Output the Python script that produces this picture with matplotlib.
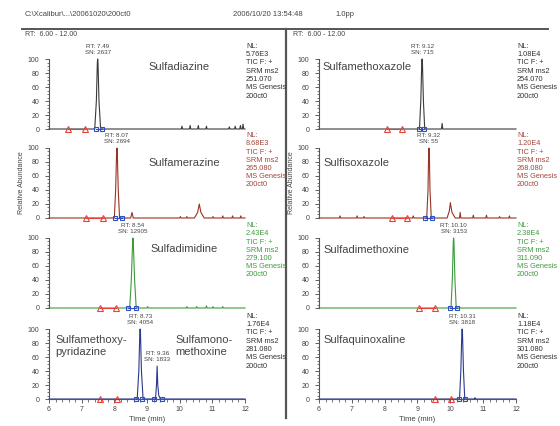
import matplotlib
matplotlib.use("Agg")
import matplotlib.pyplot as plt
from matplotlib.ticker import MultipleLocator

plt.rcParams['font.family'] = ['Liberation Sans', 'DejaVu Sans']

# ---- header text ----
file_path = "C:\\Xcalibur\\...\\20061020\\200ct0"
stamp = "2006/10/20 13:54:48"
scale_txt = "1.0pp"
rt_range = "RT:  6.00 - 12.00"

# ---- traces (time in min, relative abundance in %) ----
sdz_t = [6.00, 7.40, 7.45, 7.48, 7.49, 7.50, 7.53, 7.58, 10.05, 10.07, 10.09, 10.30, 10.32, 10.34,
         10.55, 10.57, 10.59, 10.80, 10.82, 10.84, 11.50, 11.52, 11.54, 11.68, 11.70, 11.72,
         11.84, 11.86, 11.88, 11.92, 11.94, 11.96, 12.00]
sdz_a = [0, 0, 40, 95, 100, 95, 40, 0, 0, 4, 0, 0, 5, 0,
         0, 5, 0, 0, 4, 0, 0, 3, 0, 0, 4, 0,
         0, 5, 0, 0, 7, 0, 0]

smr_t = [6.00, 8.00, 8.04, 8.07, 8.08, 8.09, 8.12, 8.16, 8.50, 8.54, 8.58, 10.00, 10.02, 10.04,
         10.20, 10.22, 10.24, 10.45, 10.55, 10.60, 10.65, 10.75, 11.00, 11.02, 11.04, 11.30,
         11.32, 11.34, 11.60, 11.62, 11.64, 11.85, 11.87, 11.89, 12.00]
smr_a = [0, 0, 40, 95, 100, 95, 40, 0, 0, 8, 0, 0, 2, 0,
         0, 2, 0, 0, 8, 20, 8, 0, 0, 2, 0, 0,
         3, 0, 0, 3, 0, 0, 3, 0, 0]

sdd_t = [6.00, 8.47, 8.52, 8.56, 8.57, 8.58, 8.62, 8.67, 9.00, 9.02, 9.04, 10.20, 10.22, 10.24,
         10.50, 10.52, 10.54, 10.80, 10.82, 10.84, 11.00, 11.02, 11.04, 11.30, 11.32, 11.34, 12.00]
sdd_a = [0, 0, 40, 95, 100, 95, 40, 0, 0, 2, 0, 0, 2, 0,
         0, 2, 0, 0, 3, 0, 0, 2, 0, 0, 2, 0, 0]

smp_t = [6.00, 8.70, 8.75, 8.78, 8.79, 8.80, 8.83, 8.88, 9.26, 9.29, 9.31, 9.33, 9.36, 9.41, 12.00]
smp_a = [0, 0, 40, 95, 100, 95, 40, 0, 0, 20, 47, 20, 5, 0, 0]

smx_t = [6.00, 9.06, 9.10, 9.13, 9.14, 9.15, 9.18, 9.22, 9.73, 9.75, 9.77, 12.00]
smx_a = [0, 0, 40, 95, 100, 95, 40, 0, 0, 8, 0, 0]

sis_t = [6.00, 6.62, 6.64, 6.66, 7.14, 7.16, 7.18, 7.35, 7.37, 7.39, 8.85, 8.87, 8.89,
         9.28, 9.32, 9.34, 9.35, 9.36, 9.38, 9.42, 9.90, 9.97, 10.00, 10.05, 10.15,
         10.28, 10.30, 10.32, 10.68, 10.70, 10.72, 11.08, 11.10, 11.12, 11.48, 11.50, 11.52,
         11.78, 11.80, 11.82, 12.00]
sis_a = [0, 0, 3, 0, 0, 3, 0, 0, 2, 0, 0, 3, 0,
         0, 40, 95, 100, 95, 40, 0, 0, 10, 22, 8, 0,
         0, 8, 0, 0, 4, 0, 0, 4, 0, 0, 2, 0,
         0, 3, 0, 0]

sdm_t = [6.00, 10.02, 10.06, 10.09, 10.10, 10.11, 10.14, 10.18, 12.00]
sdm_a = [0, 0, 40, 95, 100, 95, 40, 0, 0]

sqx_t = [6.00, 10.28, 10.32, 10.35, 10.36, 10.37, 10.40, 10.44, 10.73, 10.75, 10.77, 12.00]
sqx_a = [0, 0, 40, 95, 100, 95, 40, 0, 0, 2, 0, 0]

# ---- integration markers (noise window triangles, peak boundary squares) ----
sdz_tri, sdz_sq = [6.58, 7.10], [7.44, 7.62]
smr_tri, smr_sq = [7.13, 7.65], [8.02, 8.23]
sdd_tri, sdd_sq = [7.56, 8.05], [8.43, 8.66]
smp_tri, smp_sq = [7.56, 8.08], [8.65, 8.85, 9.22, 9.45]
smx_tri, smx_sq = [8.07, 8.53], [9.05, 9.20]
sis_tri, sis_sq = [8.22, 8.68], [9.22, 9.45]
sdm_tri, sdm_sq = [9.05, 9.54], [10.00, 10.20]
sqx_tri, sqx_sq = [9.54, 10.02], [10.25, 10.45]

# ---- labels ----
names = ["Sulfadiazine", "Sulfamerazine", "Sulfadimidine", "Sulfamethoxy-\npyridazine",
         "Sulfamethoxazole", "Sulfisoxazole", "Sulfadimethoxine", "Sulfaquinoxaline"]
peak_labels = [[(7.49, 100, "RT: 7.49\nSN: 2637")],
               [(8.08, 100, "RT: 8.07\nSN: 2694")],
               [(8.57, 100, "RT: 8.54\nSN: 12905")],
               [(8.79, 100, "RT: 8.73\nSN: 4054"), (9.31, 47, "RT: 9.36\nSN: 1833")],
               [(9.14, 100, "RT: 9.12\nSN: 715")],
               [(9.35, 100, "RT: 9.32\nSN: 55")],
               [(10.10, 100, "RT: 10.10\nSN: 3153")],
               [(10.36, 100, "RT: 10.31\nSN: 3818")]]
nl_values = ["5.76E3", "8.68E3", "2.43E4", "1.76E4", "1.08E4", "1.20E4", "2.38E4", "1.18E4"]
masses = ["251.070", "265.080", "279.100", "281.080", "254.070", "268.080", "311.090", "301.080"]

traces = [(sdz_t, sdz_a), (smr_t, smr_a), (sdd_t, sdd_a), (smp_t, smp_a),
          (smx_t, smx_a), (sis_t, sis_a), (sdm_t, sdm_a), (sqx_t, sqx_a)]
markers = [(sdz_tri, sdz_sq), (smr_tri, smr_sq), (sdd_tri, sdd_sq), (smp_tri, smp_sq),
           (smx_tri, smx_sq), (sis_tri, sis_sq), (sdm_tri, sdm_sq), (sqx_tri, sqx_sq)]

line_cols = ['#3a3a3a', '#9a3324', '#3c9b3c', '#2a3a8f']
text_cols = ['#333333', '#a3473a', '#3f9a3f', '#333333']

W, H = 560, 426
fig = plt.figure(figsize=(W / 100, H / 100), dpi=100)


def ftxt(x, y, s, **kw):
    return fig.text(x / W, 1 - y / H, s, **kw)


# header
ftxt(25, 15, file_path, fontsize=5.5, color='#444', va='center')
ftxt(233, 15, stamp, fontsize=5.5, color='#444', va='center')
ftxt(335, 15, scale_txt, fontsize=5.5, color='#444', va='center')
fig.add_artist(plt.Line2D([22 / W, 548 / W], [1 - 29 / H, 1 - 29 / H], color='#555', lw=1.4))
fig.add_artist(plt.Line2D([286 / W, 286 / W], [1 - 29 / H, 1 - 418 / H], color='#555', lw=1.6))
ftxt(25, 35, rt_range, fontsize=5, color='#444', va='center')
ftxt(293, 35, rt_range, fontsize=5, color='#444', va='center')

tops = [59, 148, 238, 329]
ph = 70
cols = [(49, 196), (319, 197)]
name_pos = [(148, 67), (148, 163), (150, 249), (55, 346),
            (322, 67), (323, 163), (323, 250), (323, 340)]

for i in range(8):
    c, r = divmod(i, 4)
    x0, w = cols[c]
    top = tops[r]
    ax = fig.add_axes([x0 / W, 1 - (top + ph) / H, w / W, ph / H])
    t, a = traces[i]
    ax.plot(t, a, color=line_cols[r], lw=0.8, clip_on=False)
    tri, sq = markers[i]
    ax.plot(tri, [0] * len(tri), color='#e8413a', lw=0.8, marker='^', ms=4,
            mfc='none', mew=0.8, clip_on=False)
    for k in range(0, len(sq), 2):
        ax.plot(sq[k:k + 2], [0, 0], color='#3050c0', lw=0.8, marker='s', ms=3.5,
                mfc='none', mew=0.8, clip_on=False)
    ax.set_xlim(6, 12)
    ax.set_ylim(0, 100)
    for s in ['top', 'right']:
        ax.spines[s].set_visible(False)
    ax.spines['left'].set_color('#555')
    ax.spines['left'].set_linewidth(0.8)
    ax.yaxis.set_major_locator(MultipleLocator(20))
    ax.yaxis.set_minor_locator(MultipleLocator(5))
    ax.tick_params(axis='y', which='major', labelsize=5, length=3, width=0.6,
                   colors='#444', pad=4)
    ax.tick_params(axis='y', which='minor', length=1.8, width=0.5, colors='#444')
    if r == 3:
        ax.spines['bottom'].set_color('#555')
        ax.spines['bottom'].set_linewidth(0.8)
        ax.xaxis.set_major_locator(MultipleLocator(1))
        ax.xaxis.set_minor_locator(MultipleLocator(0.2))
        ax.tick_params(axis='x', which='major', labelsize=5, length=3, width=0.6,
                       colors='#444', pad=2)
        ax.tick_params(axis='x', which='minor', length=1.8, width=0.5, colors='#444')
        ax.set_xlabel("Time (min)", fontsize=5.5, color='#444', labelpad=2)
    else:
        ax.spines['bottom'].set_visible(False)
        ax.set_xticks([])
    if r == 1:
        ax.set_ylabel("Relative Abundance", fontsize=5, color='#444', labelpad=2)
    ax.patch.set_alpha(0)

    for (px, py, lab) in peak_labels[i]:
        ax.annotate(lab, (px, py), xytext=(0, 3), textcoords='offset points',
                    ha='center', va='bottom', fontsize=4.5, color='#444',
                    linespacing=1.3, annotation_clip=False)

    nx, ny = name_pos[i]
    ftxt(nx, ny, names[i], fontsize=8, color='#444', va='center', linespacing=1.2)
    if i == 3:
        ftxt(175, 346, "Sulfamono-\nmethoxine", fontsize=8, color='#444', va='center',
             linespacing=1.2)

    nl = "NL:\n%s\nTIC F: +\nSRM ms2\n%s\nMS Genesis\n200ct0" % (nl_values[i], masses[i])
    ftxt(x0 + w + 1, top - 16, nl, fontsize=5.3, color=text_cols[r], va='top',
         linespacing=1.25)

fig.savefig("out.png", dpi=100, facecolor='white')
